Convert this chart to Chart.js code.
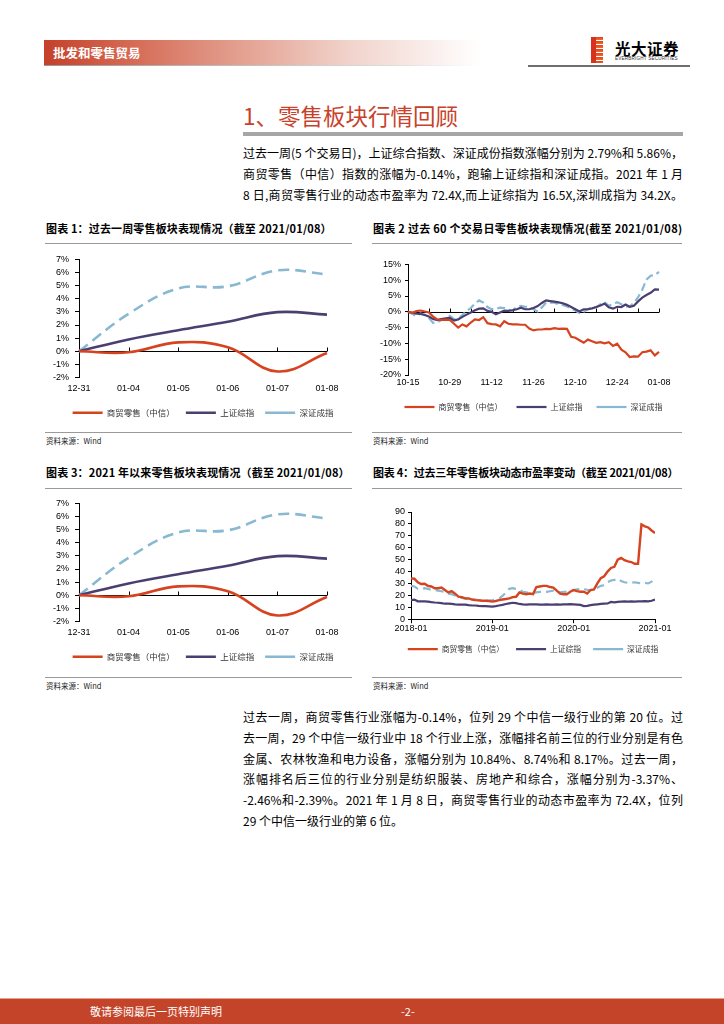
<!DOCTYPE html>
<html>
<head>
<meta charset="utf-8">
<script src="https://cdn.jsdelivr.net/npm/chart.js@4.4.1/dist/chart.umd.min.js"></script>
<style>
  body { margin: 0; width: 724px; height: 1024px; position: relative; background: #fff; overflow: hidden;
         font-family: "Noto Sans CJK SC", "Noto Sans", sans-serif; color: #000; }
  .abs { position: absolute; }
  .hdr { left: 44px; top: 40px; width: 436px; height: 25px;
         background: linear-gradient(90deg, #c5402a 0%, #d46650 18%, #e3a090 45%, #f1d3cb 70%, #ffffff 100%); }
  .hdr span { position: absolute; left: 9px; top: 4px; font-size: 12.5px; font-weight: bold; color: #fff; line-height: 17px; }
  .hdrline { left: 44px; top: 65px; width: 436px; height: 1px; background: linear-gradient(90deg, #999, #ddd 80%, #fff); }
  .logoline { left: 528px; top: 65px; width: 162px; height: 2px; background: #6e6e6e; }
  .logoicon { left: 591px; top: 37px; width: 12px; height: 26px;
              background: repeating-linear-gradient(180deg, #e2401c 0px, #ee6b2c 3px, #fff 3px, #fff 4px); }
  .logoicon:before { content: ""; position: absolute; left: 0; top: 0; width: 5px; height: 26px; background: #d8311c; }
  .logotxt { left: 615px; top: 38px; font-size: 15.5px; font-weight: bold; letter-spacing: 0.5px; line-height: 20px; }
  .logosub { left: 615px; top: 56px; font-size: 4.6px; letter-spacing: 0.2px; font-family: "Liberation Sans", sans-serif; color: #333; }
  .h1 { left: 243px; top: 100px; font-size: 22.5px; color: #c8412a; line-height: 30px; }
  .h1bar { left: 243px; top: 132px; width: 440px; height: 4px; background: #a6a6a6; }
  .para { left: 243px; width: 440px; font-size: 12px; line-height: 20.8px; }
  .para div { white-space: nowrap; text-align: justify; text-align-last: justify; }
  .para div.last { text-align-last: left; }
  .ctitle { font-size: 11px; font-weight: bold; line-height: 14px; white-space: nowrap; letter-spacing: 0.15px; }
  .rule { height: 1px; background: #9a9a9a; }
  .src { font-size: 7.5px; line-height: 10px; color: #222; }
  canvas { position: absolute; }
  .foot { left: 0; top: 998px; width: 724px; height: 25px; background: #c4442a; border-top: 1px solid #e4a08c; }
  .foot span { position: absolute; top: 5px; font-size: 11px; color: #fff; line-height: 14px; }
</style>
</head>
<body>
<div class="abs hdr"><span>批发和零售贸易</span></div>
<div class="abs hdrline"></div>
<div class="abs logoicon"></div>
<div class="abs logotxt">光大证券</div>
<div class="abs logosub">EVERBRIGHT SECURITIES</div>
<div class="abs logoline"></div>

<div class="abs h1">1、零售板块行情回顾</div>
<div class="abs h1bar"></div>
<div class="abs para" style="top:143px">
  <div>过去一周(5 个交易日)，上证综合指数、深证成份指数涨幅分别为 2.79%和 5.86%，</div>
  <div>商贸零售（中信）指数的涨幅为-0.14%，跑输上证综指和深证成指。2021 年 1 月</div>
  <div>8 日,商贸零售行业的动态市盈率为 72.4X,而上证综指为 16.5X,深圳成指为 34.2X。</div>
</div>

<div class="abs ctitle" style="left:46px;top:221px">图表 1：过去一周零售板块表现情况（截至 2021/01/08）</div>
<div class="abs rule" style="left:45px;top:243px;width:307px"></div>
<canvas id="c1" width="312" height="179" style="left:40px;top:248px"></canvas>
<div class="abs rule" style="left:45px;top:432px;width:307px"></div>
<div class="abs src" style="left:46px;top:436px">资料来源：Wind</div>

<div class="abs ctitle" style="left:373px;top:221px;letter-spacing:0.28px">图表 2 过去 60 个交易日零售板块表现情况(截至 2021/01/08)</div>
<div class="abs rule" style="left:372px;top:243px;width:310px"></div>
<canvas id="c2" width="312" height="166" style="left:368px;top:255px"></canvas>
<div class="abs rule" style="left:372px;top:432px;width:310px"></div>
<div class="abs src" style="left:373px;top:436px">资料来源：Wind</div>

<div class="abs ctitle" style="left:46px;top:465px">图表 3：2021 年以来零售板块表现情况（截至 2021/01/08）</div>
<div class="abs rule" style="left:45px;top:488px;width:307px"></div>
<canvas id="c3" width="312" height="179" style="left:40px;top:492px"></canvas>
<div class="abs rule" style="left:45px;top:677px;width:307px"></div>
<div class="abs src" style="left:46px;top:681px">资料来源：Wind</div>

<div class="abs ctitle" style="left:373px;top:465px;letter-spacing:-0.25px">图表 4：过去三年零售板块动态市盈率变动（截至 2021/01/08）</div>
<div class="abs rule" style="left:372px;top:488px;width:310px"></div>
<canvas id="c4" width="312" height="160" style="left:368px;top:503px"></canvas>
<div class="abs rule" style="left:372px;top:677px;width:310px"></div>
<div class="abs src" style="left:373px;top:681px">资料来源：Wind</div>

<div class="abs para" style="top:707px">
  <div>过去一周，商贸零售行业涨幅为-0.14%，位列 29 个中信一级行业的第 20 位。过</div>
  <div>去一周，29 个中信一级行业中 18 个行业上涨，涨幅排名前三位的行业分别是有色</div>
  <div>金属、农林牧渔和电力设备，涨幅分别为 10.84%、8.74%和 8.17%。过去一周，</div>
  <div>涨幅排名后三位的行业分别是纺织服装、房地产和综合，涨幅分别为-3.37%、</div>
  <div>-2.46%和-2.39%。2021 年 1 月 8 日，商贸零售行业的动态市盈率为 72.4X，位列</div>
  <div class="last">29 个中信一级行业的第 6 位。</div>
</div>

<div class="abs foot"><span style="left:90px">敬请参阅最后一页特别声明</span><span style="left:401px">-2-</span></div>

<script>
// series names
const seriesNames = ['商贸零售（中信）', '上证综指', '深证成指'];

// chart 1 / 3: week since 2020-12-31 (%)
const weekDates = ['12-31', '01-04', '01-05', '01-06', '01-07', '01-08'];
const weekRetail = [0, -0.08, 0.68, 0.3, -1.54, -0.14];
const weekSh = [0, 0.9, 1.6, 2.25, 2.98, 2.79];
const weekSz = [0, 2.85, 4.78, 4.95, 6.16, 5.86];

// chart 2: last 60 trading days (%)
const dayDates = ['10-15', '10-16', '10-19', '10-20', '10-21', '10-22', '10-23', '10-26', '10-27', '10-28',
  '10-29', '10-30', '11-02', '11-03', '11-04', '11-05', '11-06', '11-09', '11-10', '11-11',
  '11-12', '11-13', '11-16', '11-17', '11-18', '11-19', '11-20', '11-23', '11-24', '11-25',
  '11-26', '11-27', '11-30', '12-01', '12-02', '12-03', '12-04', '12-07', '12-08', '12-09',
  '12-10', '12-11', '12-14', '12-15', '12-16', '12-17', '12-18', '12-21', '12-22', '12-23',
  '12-24', '12-25', '12-28', '12-29', '12-30', '12-31', '01-04', '01-05', '01-06', '01-07', '01-08'];
const dayRetail = [0, -0.3, 0.2, 0.4, 0.1, -0.2, -1.5, -2.4, -2.6, -2.5,
  -2.6, -3.8, -5.0, -4.0, -4.6, -3.4, -2.4, -2.6, -1.7, -3.6,
  -3.9, -4.0, -4.6, -3.0, -3.8, -4.0, -4.0, -4.1, -4.1, -5.3,
  -5.9, -5.6, -5.6, -5.4, -5.5, -5.2, -5.4, -5.3, -5.4, -7.9,
  -8.2, -9.0, -9.8, -8.8, -9.3, -9.8, -9.6, -10.0, -9.6, -10.8,
  -10.1, -12.0, -12.8, -14.3, -14.1, -14.2, -12.8, -12.6, -12.2, -13.8, -12.7];
const daySh = [0, -0.3, -0.6, -0.7, -1.0, -1.5, -2.3, -2.6, -2.3, -2.1,
  -1.9, -2.8, -2.4, -1.6, -0.9, -0.2, 0.5, 1.0, 1.1, 0.3,
  0.0, -0.8, -0.2, 0.4, 0.3, 0.5, 0.8, 1.3, 0.8, 0.8,
  1.2, 1.8, 2.8, 3.6, 3.4, 3.2, 3.0, 2.7, 2.2, 1.5,
  0.8, 0.1, 0.8, 0.8, 1.1, 1.5, 2.0, 2.6, 1.4, 1.0,
  1.6, 1.5, 2.3, 1.6, 1.9, 3.3, 4.5, 5.3, 6.0, 7.1, 7.0];
const daySz = [0, -0.6, -1.4, -0.5, -0.9, -2.0, -3.5, -3.3, -2.6, -2.4,
  -1.3, -2.3, -2.3, -1.0, 0.2, 1.2, 2.6, 3.6, 2.9, 1.5,
  0.8, 0.9, 1.3, 1.2, 0.6, 0.4, 1.5, 1.9, 1.6, 1.6,
  0.8, 0.1, 1.4, 2.9, 2.9, 2.9, 2.4, 2.2, 1.7, 1.1,
  0.4, -0.4, 0.0, 0.8, 1.5, 1.4, 2.4, 3.0, 1.9, 2.4,
  3.0, 2.4, 1.7, 1.6, 2.9, 4.6, 7.0, 10.2, 11.4, 11.6, 12.6];

// chart 4: PE, half-month samples from 2018-01 to 2021-01
const peYears = ['2018-01', '2019-01', '2020-01', '2021-01'];
const peRetail = [34.3, 34.0, 31.0, 29.5, 29.8, 28.0, 27.5, 26.0, 26.0, 26.5,
  24.5, 22.5, 23.5, 21.5, 19.0, 18.5, 17.5, 17.5, 16.5, 16.0,
  15.8, 15.5, 15.5, 15.2, 14.8, 15.3, 16.0, 16.5, 17.0, 17.5,
  18.5, 18.8, 22.5, 21.5, 21.0, 21.5, 21.0, 27.0, 27.5, 28.0,
  28.0, 27.0, 26.5, 24.0, 21.5, 21.0, 21.0, 23.0, 24.5, 23.5,
  23.0, 23.0, 21.5, 24.5, 25.0, 30.0, 34.5, 36.0, 40.0, 43.0,
  44.0, 50.0, 51.5, 49.5, 48.5, 48.0, 46.5, 46.5, 79.5, 78.0,
  77.0, 74.5, 72.4];
const peSh = [16.0, 16.5, 15.0, 15.0, 15.0, 14.8, 14.3, 14.0, 13.8, 13.5,
  13.0, 13.0, 12.8, 12.5, 12.3, 12.3, 12.3, 11.8, 11.5, 11.5,
  11.2, 11.0, 11.0, 10.8, 10.6, 11.0, 11.5, 12.0, 12.8, 13.3,
  13.8, 13.5, 12.8, 12.5, 12.3, 12.5, 12.4, 12.5, 12.3, 12.3,
  12.4, 12.2, 12.3, 12.5, 12.3, 12.4, 12.5, 12.6, 12.5, 12.3,
  12.0, 11.0, 11.2, 11.8, 12.2, 12.5, 12.8, 13.0, 13.2, 14.5,
  14.2, 14.5, 14.8, 15.0, 14.8, 15.0, 14.8, 15.0, 15.0, 15.2,
  15.0, 15.5, 16.5];
const peSz = [28.0, 27.5, 25.5, 25.0, 26.0, 25.5, 24.5, 24.5, 24.0, 23.5,
  23.0, 21.5, 21.0, 20.0, 19.0, 17.8, 17.3, 16.8, 16.5, 16.5,
  16.0, 16.0, 15.8, 15.8, 15.9, 16.5, 17.3, 19.5, 22.5, 25.5,
  26.0, 25.5, 24.5, 23.0, 22.5, 22.0, 22.0, 22.5, 23.0, 23.0,
  23.0, 23.5, 24.0, 23.0, 22.5, 23.0, 23.0, 23.5, 24.5, 25.0,
  25.5, 25.5, 24.5, 24.5, 25.5, 26.5, 28.0, 28.5, 31.0, 32.5,
  33.0, 34.0, 32.0, 31.0, 30.5, 30.5, 31.0, 30.5, 30.0, 30.5,
  30.0, 31.5, 34.2];

const RED = '#d5431f';
const PURPLE = '#4b3f71';
const BLUE = '#88b8d2';
const tickFont = { family: 'Liberation Sans, Arial, sans-serif', size: 9 };
const cjkFont = size => ({ family: 'Noto Sans CJK SC, sans-serif', size: size });

// horizontal axis drawn through 0 with small tick marks
const zeroAxis = {
  id: 'zeroAxis',
  beforeDatasetsDraw(chart, args, opts) {
    if (!opts.every) return;
    const { ctx, chartArea, scales } = chart;
    const y0 = Math.round(scales.y.getPixelForValue(0)) + 0.5;
    ctx.save();
    ctx.strokeStyle = '#000';
    ctx.lineWidth = 1;
    ctx.beginPath();
    ctx.moveTo(chartArea.left, y0);
    ctx.lineTo(chartArea.right, y0);
    for (let i = 0; i < chart.data.labels.length; i += opts.every) {
      const px = Math.round(scales.x.getPixelForValue(i)) + 0.5;
      ctx.moveTo(px, y0);
      ctx.lineTo(px, y0 - 4);
    }
    ctx.stroke();
    ctx.restore();
  }
};

// centre the legend under the plot area instead of the whole canvas
const legendUnderPlot = {
  id: 'legendUnderPlot',
  afterLayout(chart) {
    const lg = chart.legend;
    if (!lg) return;
    const a = chart.chartArea;
    const shift = (a.left + a.right) / 2 - (lg.left + lg.right) / 2;
    lg.left += shift;
    lg.right += shift;
  }
};

function legendOpts(size, pad) {
  return {
    position: 'bottom',
    labels: {
      usePointStyle: true, pointStyle: 'line', pointStyleWidth: 30,
      font: cjkFont(size), color: '#333', padding: pad
    }
  };
}

function lineSet(label, data, color, width, tension, dash) {
  return {
    label: label, data: data, borderColor: color, backgroundColor: color,
    borderWidth: width, tension: tension, pointRadius: 0, borderDash: dash || [],
    borderCapStyle: 'butt', fill: false
  };
}

function weekChart(id) {
  new Chart(document.getElementById(id), {
    type: 'line',
    data: {
      labels: weekDates,
      datasets: [
        lineSet(seriesNames[0], weekRetail, RED, 2.6, 0.4),
        lineSet(seriesNames[1], weekSh, PURPLE, 2.6, 0.4),
        lineSet(seriesNames[2], weekSz, BLUE, 2.6, 0.4, [11, 6])
      ]
    },
    options: {
      responsive: false,
      animation: false,
      layout: { padding: { top: 9, right: 25, left: 0, bottom: 0 } },
      scales: {
        x: {
          grid: { display: false, drawTicks: false }, border: { display: false },
          ticks: { font: tickFont, color: '#000', padding: 6, maxRotation: 0, autoSkip: false },
          afterFit: s => { s.height = 20; }
        },
        y: {
          min: -2, max: 7,
          ticks: { stepSize: 1, autoSkip: false, font: tickFont, color: '#000', padding: 6, callback: v => v + '%' },
          grid: { drawOnChartArea: false, drawTicks: true, tickLength: 4, color: '#000' },
          border: { display: true, color: '#000' },
          afterFit: s => { s.width = 39; }
        }
      },
      plugins: {
        legend: legendOpts(8.5, 11),
        tooltip: { enabled: false },
        zeroAxis: { every: 1 }
      }
    },
    plugins: [zeroAxis, legendUnderPlot]
  });
}

weekChart('c1');
weekChart('c3');

new Chart(document.getElementById('c2'), {
  type: 'line',
  data: {
    labels: dayDates,
    datasets: [
      lineSet(seriesNames[0], dayRetail, RED, 2.2, 0),
      lineSet(seriesNames[1], daySh, PURPLE, 2.2, 0),
      lineSet(seriesNames[2], daySz, BLUE, 2.2, 0, [8, 4])
    ]
  },
  options: {
    responsive: false,
    animation: false,
    layout: { padding: { top: 8, right: 21, left: 0, bottom: 0 } },
    scales: {
      x: {
        grid: { display: false, drawTicks: false }, border: { display: false },
        ticks: {
          font: tickFont, color: '#000', padding: 2, maxRotation: 0, autoSkip: false,
          callback: function (v, i) { return i % 10 === 0 ? this.getLabelForValue(v) : ''; }
        },
        afterFit: s => { s.height = 14; }
      },
      y: {
        min: -20, max: 15,
        ticks: { stepSize: 5, autoSkip: false, font: tickFont, color: '#000', padding: 4, callback: v => v + '%' },
        grid: { drawOnChartArea: false, drawTicks: true, tickLength: 3, color: '#000' },
        border: { display: true, color: '#000' },
        afterFit: s => { s.width = 40; }
      }
    },
    plugins: {
      legend: legendOpts(8, 14),
      tooltip: { enabled: false },
      zeroAxis: { every: 5 }
    }
  },
  plugins: [zeroAxis, legendUnderPlot]
});

const halfMonth = arr => arr.map((v, k) => ({ x: k / 2, y: v }));

new Chart(document.getElementById('c4'), {
  type: 'line',
  data: {
    datasets: [
      lineSet(seriesNames[0], halfMonth(peRetail), RED, 2.4, 0),
      lineSet(seriesNames[1], halfMonth(peSh), PURPLE, 2.2, 0),
      lineSet(seriesNames[2], halfMonth(peSz), BLUE, 2.2, 0, [8, 5])
    ]
  },
  options: {
    responsive: false,
    animation: false,
    layout: { padding: { top: 9, right: 25, left: 0, bottom: 0 } },
    scales: {
      x: {
        type: 'linear', min: 0, max: 36,
        grid: { drawOnChartArea: false, drawTicks: true, tickLength: 4, color: '#000' },
        border: { display: true, color: '#000' },
        ticks: { stepSize: 12, font: tickFont, color: '#000', padding: 0, maxRotation: 0,
                 callback: v => peYears[Math.round(v / 12)] },
        afterFit: s => { s.height = 14; }
      },
      y: {
        min: 0, max: 90,
        ticks: { stepSize: 10, autoSkip: false, font: tickFont, color: '#000', padding: 3 },
        grid: { drawOnChartArea: false, drawTicks: true, tickLength: 3, color: '#000' },
        border: { display: true, color: '#000' },
        afterFit: s => { s.width = 43; }
      }
    },
    plugins: {
      legend: legendOpts(7.8, 12),
      tooltip: { enabled: false }
    }
  },
  plugins: [legendUnderPlot]
});
</script>
</body>
</html>
